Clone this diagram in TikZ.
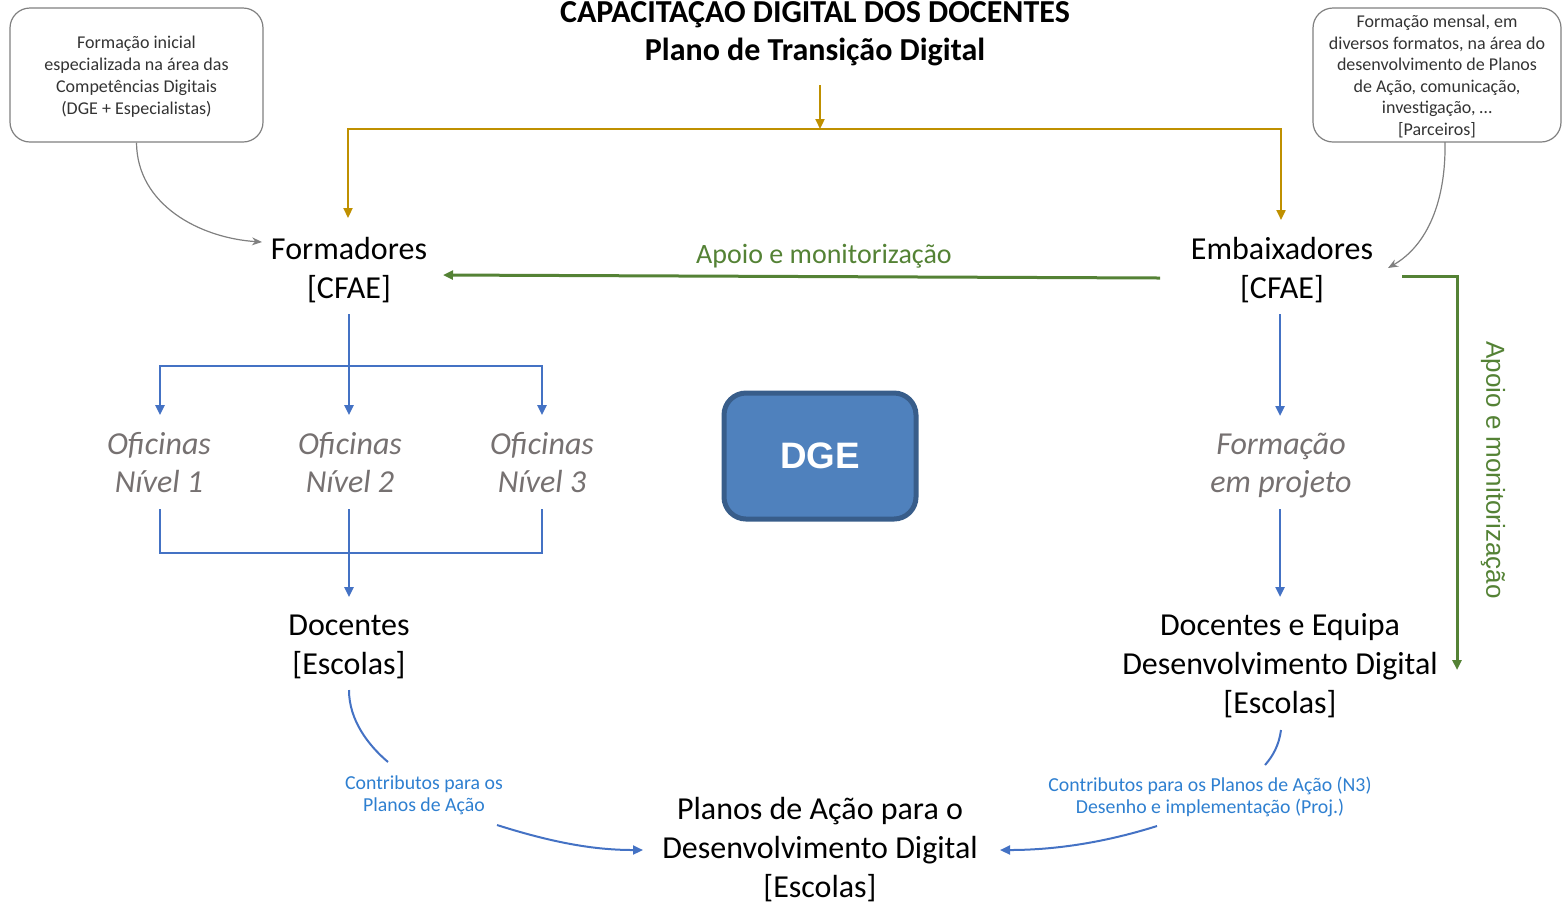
\documentclass[tikz,border=0pt]{standalone}
\usepackage{fontspec}
\setmainfont{Carlito}
\newfontfamily\arialf{Liberation Sans}
\usetikzlibrary{arrows.meta}
\definecolor{gold}{HTML}{BF9000}
\definecolor{grn}{HTML}{548235}
\definecolor{blu}{HTML}{4472C4}
\definecolor{lblu}{HTML}{2E7FD0}
\definecolor{gtxt}{HTML}{767171}
\definecolor{gline}{HTML}{808080}
\definecolor{dgefill}{HTML}{4F81BD}
\definecolor{dgedraw}{HTML}{385D8A}
\tikzset{
  tip/.style={-{Triangle[length=5pt,width=4.5pt]}},
  mainlbl/.style={align=center,inner sep=0pt,font=\fontsize{16}{19.5}\selectfont},
  ofic/.style={align=center,inner sep=0pt,text=gtxt,font=\fontsize{16}{19}\selectfont\itshape},
  smallbox/.style={draw=gline,line width=0.6pt,rounded corners=10pt,inner sep=0pt},
  smalltxt/.style={align=center,inner sep=0pt,text=black!80},
  contrib/.style={align=center,inner sep=0pt,text=lblu,font=\fontsize{9.9}{11.2}\selectfont},
  goldln/.style={draw=gold,line width=1.1pt},
  grnln/.style={draw=grn,line width=1.5pt},
  bluln/.style={draw=blu,line width=1.2pt},
  grayln/.style={draw=gline,line width=0.6pt,-{Stealth[length=5pt,width=4pt]}},
  dgebox/.style={fill=dgefill,draw=dgedraw,line width=2.5pt,rounded corners=11pt,
     minimum width=96pt,minimum height=63pt,text=white,font=\arialf\bfseries\fontsize{18.4}{20}\selectfont}
}
\begin{document}
\begin{tikzpicture}[x=0.5pt,y=-0.5pt]
\useasboundingbox (0,0) rectangle (1562,902);
% title
\node[align=center,inner sep=0pt,font=\bfseries\fontsize{16}{19}\selectfont] (title) at (815,31)
  {CAPACITAÇÃO DIGITAL DOS DOCENTES\\Plano de Transição Digital};
% side boxes
\node[smallbox,minimum width=126.5pt,minimum height=67pt] (lbox) at (136.5,75) {};
\node[smalltxt,font=\fontsize{9}{11}\selectfont] (ltxt) at (136.5,77)
  {Formação inicial\\especializada na área das\\Competências Digitais\\(DGE + Especialistas)};
\node[smallbox,minimum width=124pt,minimum height=67pt] (rbox) at (1437,75) {};
\node[smalltxt,font=\fontsize{9}{10.8}\selectfont] (rtxt) at (1437,76.5)
  {Formação mensal, em\\diversos formatos, na área do\\desenvolvimento de Planos\\de Ação, comunicação,\\investigação, \dots\\{}[Parceiros]};
% main nodes
\node[mainlbl] (form) at (349,270) {Formadores\\{}[CFAE]};
\node[mainlbl] (emb) at (1282,270) {Embaixadores\\{}[CFAE]};
\node[ofic] (of1) at (159,463) {Oficinas\\Nível 1};
\node[ofic] (of2) at (350,463) {Oficinas\\Nível 2};
\node[ofic] (of3) at (542,463) {Oficinas\\Nível 3};
\node[ofic] (fp) at (1281,466) {Formação\\em projeto};
\node[mainlbl] (doc) at (349,647) {Docentes\\{}[Escolas]};
\node[mainlbl] (deq) at (1280,666) {Docentes e Equipa\\Desenvolvimento Digital\\{}[Escolas]};
\node[mainlbl] (pa) at (820,850) {Planos de Ação para o\\Desenvolvimento Digital\\{}[Escolas]};
\node[dgebox] (dge) at (820,456) {DGE};
\node[contrib] (c1) at (424,795) {Contributos para os\\Planos de Ação};
\node[contrib] (c2) at (1210,797) {Contributos para os Planos de Ação (N3)\\Desenho e implementação (Proj.)};
% gold connectors
\coordinate (g0) at (820,85);
\coordinate (g1) at (820,129);
\coordinate (gl) at (348,129);
\coordinate (gr) at (1281,129);
\coordinate (gle) at (348,218);
\coordinate (gre) at (1281,220);
\draw[goldln,tip] (g0) -- (g1);
\draw[goldln,tip] (g1) -- (gl) -- (gle);
\draw[goldln,tip] (g1) -- (gr) -- (gre);
% gray curves
\coordinate (lg1) at (262,242);
\coordinate (rg0) at (1445,142);
\coordinate (rg1) at (1388,268);
\draw[grayln] (lbox.south) .. controls (137,205) and (200,238) .. (lg1);
\draw[grayln] (rg0) .. controls (1446,200) and (1428,245) .. (rg1);
% green connectors
\coordinate (a0) at (1160,278);
\coordinate (a1) at (443,275);
\draw[grnln,tip] (a0) -- (a1);
\node[inner sep=0pt,text=grn,font=\fontsize{14}{15}\selectfont] (apl) at (824,256) {Apoio e monitorização};
\coordinate (b0) at (1402,276);
\coordinate (b1) at (1457,276);
\coordinate (b2) at (1457,670);
\draw[grnln,tip] (b0) -- (b1) -- (b2);
\node[rotate=-90,inner sep=0pt,text=grn,font=\arialf\fontsize{13}{14}\selectfont] (apv) at (1493,470) {Apoio e monitorização};
% blue connectors left
\coordinate (f0) at (349,314);
\coordinate (f1) at (349,366);
\coordinate (fl) at (160,366);
\coordinate (fr) at (542,366);
\coordinate (o1t) at (160,415);
\coordinate (o2t) at (349,415);
\coordinate (o3t) at (542,415);
\draw[bluln,tip] (f0) -- (o2t);
\draw[bluln,tip] (f1) -- (fl) -- (o1t);
\draw[bluln,tip] (f1) -- (fr) -- (o3t);
\coordinate (o1b) at (160,509);
\coordinate (o2b) at (349,509);
\coordinate (o3b) at (542,509);
\coordinate (jl) at (160,553);
\coordinate (jr) at (542,553);
\coordinate (dt) at (349,597);
\draw[bluln] (o1b) -- (jl) -- (jr) -- (o3b);
\draw[bluln,tip] (o2b) -- (dt);
% blue connectors right
\coordinate (e0) at (1280,314);
\coordinate (e1) at (1280,416);
\coordinate (p0) at (1280,509);
\coordinate (p1) at (1280,597);
\draw[bluln,tip] (e0) -- (e1);
\draw[bluln,tip] (p0) -- (p1);
% bottom curves
\coordinate (d0) at (349,690);
\coordinate (d1) at (388,762);
\coordinate (d2) at (497,825);
\coordinate (d3) at (643,850);
\draw[draw=blu,line width=1pt] (d0) .. controls (349,720) and (368,745) .. (d1);
\draw[draw=blu,line width=1pt,tip] (d2) .. controls (560,845) and (600,850) .. (d3);
\coordinate (q0) at (1281,730);
\coordinate (q1) at (1265,765);
\coordinate (q2) at (1157,826);
\coordinate (q3) at (1000,850);
\draw[draw=blu,line width=1pt] (q0) .. controls (1279,745) and (1273,756) .. (q1);
\draw[draw=blu,line width=1pt,tip] (q2) .. controls (1100,844) and (1050,850) .. (q3);
\end{tikzpicture}
\end{document}
